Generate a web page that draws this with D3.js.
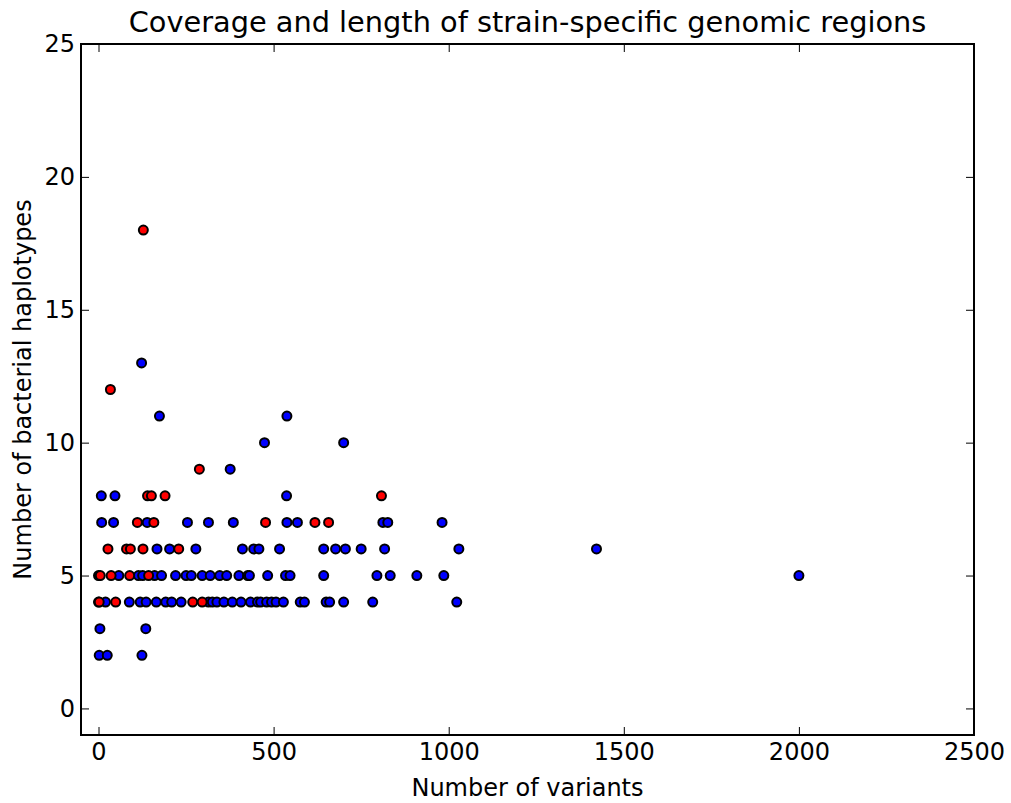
<!DOCTYPE html>
<html>
<head>
<meta charset="utf-8">
<script src="https://cdn.jsdelivr.net/npm/d3@7"></script>
<style>
  body { margin: 0; background: #fff; }
  svg { display: block; font-family: "DejaVu Sans", sans-serif; }
</style>
</head>
<body>
<div class="canva"></div>
<script>
// blue regions, grouped by haplotype row
const blueVariants = [
  2, 25, 124,
  4, 135,
  0, 20, 88, 119, 136, 165, 192, 209, 236, 314, 325, 338, 358, 382, 407, 434, 454, 463, 480, 494, 507, 528, 576, 588, 650, 660, 700, 783, 1023,
  0, 58, 114, 126, 160, 180, 220, 250, 265, 296, 319, 346, 366, 401, 426, 431, 483, 534, 547, 643, 795, 833, 909, 986, 2000,
  167, 203, 278, 411, 443, 458, 517, 643, 677, 705, 750, 817, 1029, 1422,
  9, 43, 139, 254, 314, 385, 538, 568, 812, 826, 981,
  8, 47, 537,
  376,
  474, 700,
  174, 538,
  123
];
const blueHaplotypes = [
  2, 2, 2,
  3, 3,
  4, 4, 4, 4, 4, 4, 4, 4, 4, 4, 4, 4, 4, 4, 4, 4, 4, 4, 4, 4, 4, 4, 4, 4, 4, 4, 4, 4, 4,
  5, 5, 5, 5, 5, 5, 5, 5, 5, 5, 5, 5, 5, 5, 5, 5, 5, 5, 5, 5, 5, 5, 5, 5, 5,
  6, 6, 6, 6, 6, 6, 6, 6, 6, 6, 6, 6, 6, 6,
  7, 7, 7, 7, 7, 7, 7, 7, 7, 7, 7,
  8, 8, 8,
  9,
  10, 10,
  11, 11,
  13
];

// red regions
const redVariants = [
  2, 49, 269, 296,
  5, 36, 89, 143,
  27, 80, 91, 127, 229,
  111, 158, 477, 618, 657,
  140, 151, 190, 808,
  288,
  34,
  128
];
const redHaplotypes = [
  4, 4, 4, 4,
  5, 5, 5, 5,
  6, 6, 6, 6, 6,
  7, 7, 7, 7, 7,
  8, 8, 8, 8,
  9,
  12,
  18
];

const xTicks = [0, 500, 1000, 1500, 2000, 2500];
const yTicks = [0, 5, 10, 15, 20, 25];

const W = 1011, H = 803;
const pLeft = 81, pRight = 974, pTop = 44, pBottom = 735;

const svg = d3.select(".canva").append("svg")
  .attr("width", W)
  .attr("height", H);

const x = d3.scaleLinear().domain([-50, 2500]).range([pLeft, pRight]);
const y = d3.scaleLinear().domain([-1, 25]).range([pBottom, pTop]);

// ticks pointing inward on all four sides
const ax = svg.append("g").attr("transform", `translate(0,${pBottom})`)
  .call(d3.axisBottom(x).tickValues(xTicks).tickFormat(d3.format("d"))
    .tickSizeInner(-8).tickSizeOuter(0).tickPadding(8));
const axTop = svg.append("g").attr("transform", `translate(0,${pTop})`)
  .call(d3.axisTop(x).tickValues(xTicks).tickSizeInner(-8).tickSizeOuter(0).tickFormat(""));
const ay = svg.append("g").attr("transform", `translate(${pLeft},0)`)
  .call(d3.axisLeft(y).tickValues(yTicks).tickFormat(d3.format("d"))
    .tickSizeInner(-8).tickSizeOuter(0).tickPadding(6));
const ayRight = svg.append("g").attr("transform", `translate(${pRight},0)`)
  .call(d3.axisRight(y).tickValues(yTicks).tickSizeInner(-8).tickSizeOuter(0).tickFormat(""));

[ax, axTop, ay, ayRight].forEach(g => {
  g.select(".domain").remove();
  g.selectAll(".tick line").attr("stroke", "#000").attr("stroke-width", 1);
  g.selectAll(".tick text")
    .attr("fill", "#000")
    .style("font-size", "24px")
    .style("font-family", "DejaVu Sans");
});

const blue = blueVariants.map((v, i) => ({v: v, h: blueHaplotypes[i]}));
const red = redVariants.map((v, i) => ({v: v, h: redHaplotypes[i]}));

const plot = svg.append("g");

plot.selectAll("circle.blue")
  .data(blue)
  .enter()
  .append("circle")
  .attr("class", "blue")
  .attr("cx", d => x(d.v))
  .attr("cy", d => y(d.h))
  .attr("r", 4.5)
  .attr("fill", "#0000ff")
  .attr("stroke", "#000")
  .attr("stroke-width", 2);

plot.selectAll("circle.red")
  .data(red)
  .enter()
  .append("circle")
  .attr("class", "red")
  .attr("cx", d => x(d.v))
  .attr("cy", d => y(d.h))
  .attr("r", 4.5)
  .attr("fill", "#ff0000")
  .attr("stroke", "#000")
  .attr("stroke-width", 2);

// frame
svg.append("rect")
  .attr("x", pLeft)
  .attr("y", pTop)
  .attr("width", pRight - pLeft)
  .attr("height", pBottom - pTop)
  .attr("fill", "none")
  .attr("stroke", "#000")
  .attr("stroke-width", 2);

svg.append("text")
  .attr("x", (pLeft + pRight) / 2)
  .attr("y", 32)
  .attr("text-anchor", "middle")
  .style("font-size", "28.8px")
  .text("Coverage and length of strain-specific genomic regions");

svg.append("text")
  .attr("x", (pLeft + pRight) / 2)
  .attr("y", 796)
  .attr("text-anchor", "middle")
  .style("font-size", "24px")
  .text("Number of variants");

svg.append("text")
  .attr("transform", `translate(31,${(pTop + pBottom) / 2}) rotate(-90)`)
  .attr("text-anchor", "middle")
  .style("font-size", "24px")
  .text("Number of bacterial haplotypes");
</script>
</body>
</html>
